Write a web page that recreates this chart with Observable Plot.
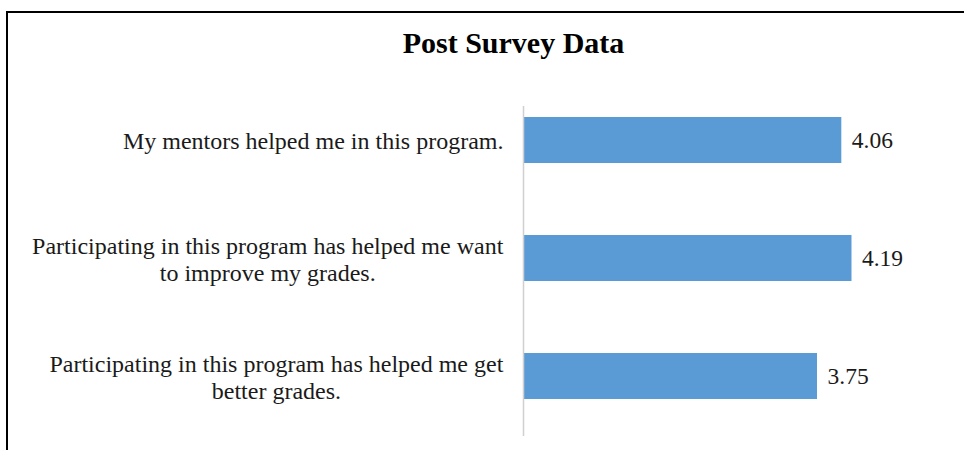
<!DOCTYPE html>
<html>
<head>
<meta charset="utf-8">
<script src="https://cdn.jsdelivr.net/npm/d3@7"></script>
<script src="https://cdn.jsdelivr.net/npm/@observablehq/plot@0.6"></script>
<style>
  html, body { margin: 0; padding: 0; background: #fff; overflow: hidden; width: 964px; height: 450px; }
  #wrap { position: relative; width: 964px; height: 450px; overflow: hidden; }
  #box { position: absolute; left: 6px; top: 11px; width: 1100px; height: 600px; border-top: 2px solid #000; border-left: 2px solid #000; }
  #title { position: absolute; left: 0; top: 28px; width: 1027px; text-align: center; font-family: "Liberation Serif", "Times New Roman", serif; font-weight: bold; font-size: 30px; line-height: 30px; color: #000; }
  #chart { position: absolute; left: 0; top: 0; }
</style>
</head>
<body>
<div id="wrap">
  <div id="box"></div>
  <div id="title">Post Survey Data</div>
  <div id="chart"></div>
</div>
<script>
const categories = [
  "My mentors helped me in this program.",
  "Participating in this program has helped me want\nto improve my grades.",
  "Participating in this program has helped me get\nbetter grades."
];
const values = [4.06, 4.19, 3.75];
const xDomain = [0, 5];

const data = categories.map((c, i) => ({category: c, value: values[i]}));

const svg = Plot.plot({
  width: 964,
  height: 450,
  marginLeft: 523,
  marginRight: 49,
  marginTop: 106,
  marginBottom: 14,
  style: {fontFamily: "'Liberation Serif', 'Times New Roman', serif", background: "transparent", color: "#1a1a1a"},
  x: {domain: xDomain, axis: null},
  y: {domain: categories, paddingInner: 0.61, paddingOuter: 0.203, align: 0.22, label: null},
  marks: [
    Plot.barX(data, {x: "value", y: "category", fill: "#5b9bd5"}),
    Plot.ruleX([0], {stroke: "#d0d0d0", strokeWidth: 1.5}),
    Plot.text(data, {x: "value", y: "category", text: d => d.value.toFixed(2), textAnchor: "start", dx: 10, fontSize: 23.5, fill: "#1a1a1a"}),
    Plot.axisY({tickSize: 0, tickPadding: 20, fontSize: 24, lineHeight: 1.15, label: null, fill: "#1a1a1a"})
  ]
});
document.getElementById("chart").append(svg);

// center the lines of multi-line category labels within their block (right edge kept)
d3.select(svg).selectAll('g[aria-label="y-axis tick label"] text').each(function() {
  const tspans = this.querySelectorAll("tspan");
  if (tspans.length < 2) return;
  const w = this.getBBox().width;
  this.setAttribute("text-anchor", "middle");
  tspans.forEach(t => t.setAttribute("x", -w / 2));
});
</script>
</body>
</html>
